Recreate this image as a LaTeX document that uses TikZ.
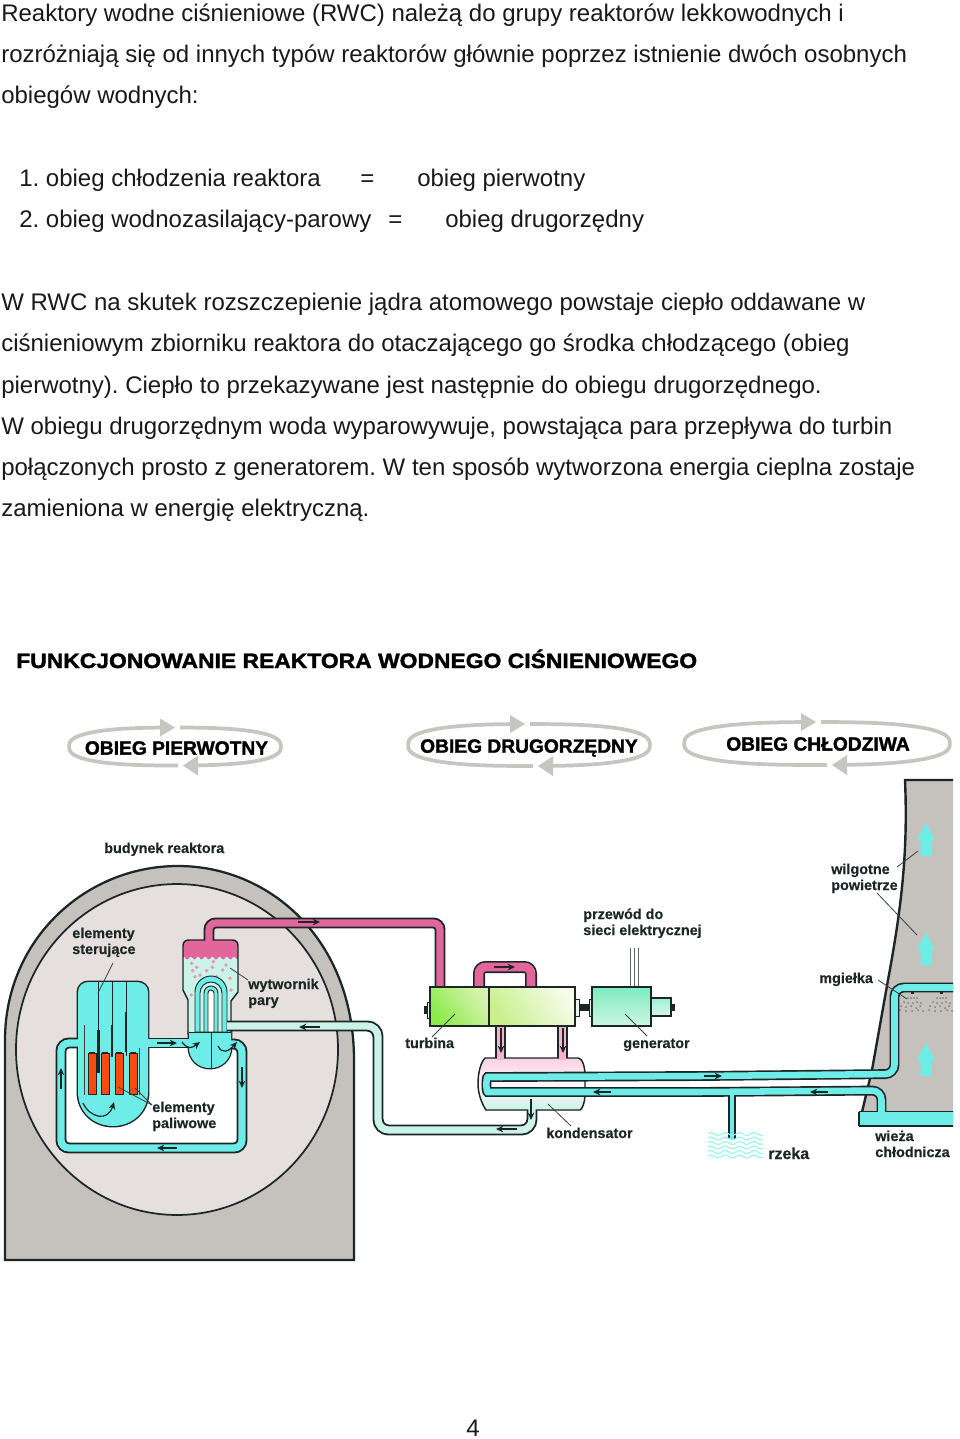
\documentclass[tikz,border=0pt]{standalone}
\usepackage{fontspec}
\usetikzlibrary{arrows.meta}
\setmainfont{Liberation Sans}
\newfontface\heavyfont{Liberation Sans Bold}[FakeBold=1.8,FakeStretch=1.1]
\newfontface\ovalfont{Liberation Sans Bold}[FakeBold=1.6]
\newfontface\labfont{Liberation Sans Bold}[FakeBold=0.35]
\definecolor{teal1}{HTML}{6EEDE8}
\definecolor{teal2}{HTML}{CBF3E8}
\definecolor{pink1}{HTML}{E2659B}
\definecolor{pink2}{HTML}{F3B3CC}
\definecolor{bgray}{HTML}{C5C2BE}
\definecolor{cgray}{HTML}{E5E0DD}
\definecolor{ovalc}{HTML}{C6C6C0}
\definecolor{ink}{HTML}{1C2626}
\definecolor{leadc}{HTML}{3A3F3F}
\definecolor{fuel}{HTML}{FA4A12}
\tikzset{
 bodytext/.style={anchor=base west,inner sep=0pt,font=\frenchspacing\fontsize{18}{20}\selectfont,text=black!90},
 lab/.style={anchor=base west,inner sep=0pt,font=\labfont\fontsize{10.8}{12}\selectfont,text=ink},
 ovaltext/.style={anchor=center,inner sep=0pt,font=\ovalfont\fontsize{14.4}{15}\selectfont,text=black},
 pipeO/.style={draw=ink,line width=8.2pt,rounded corners=6pt},
 pipeI/.style={line width=5.4pt,rounded corners=6pt},
 thinO/.style={draw=ink,line width=5.4pt},
 thinI/.style={line width=3.2pt},
 leader/.style={draw=leadc,line width=0.6pt},
 flow/.style={draw=ink,line width=0.9pt,-{Stealth[length=5.5pt,width=5pt]}},
 outline/.style={draw=ink,line width=1.1pt},
 ovalline/.style={draw=ovalc,line width=2.8pt},
 fuelrod/.style={fill=fuel,draw=ink,line width=0.6pt},
}
\newcommand{\ovalb}[6]{%
 \pgfmathsetmacro{\aR}{acos((#5+5-#1)/#3)}%
 \pgfmathsetmacro{\aB}{acos((#6+12-#1)/#3)}%
 \pgfmathsetmacro{\aC}{acos((#6-5-#1)/#3)}%
 \pgfmathsetmacro{\aL}{360-acos((#5-12-#1)/#3)}%
 \draw[ovalline] plot[smooth,samples=60,domain=-\aR:\aB] ({#1+#3*cos(\x)/((abs(cos(\x))+0.001)^2.6+(abs(sin(\x))+0.001)^2.6)^(0.3846)},{#2+#4*sin(\x)/((abs(cos(\x))+0.001)^2.6+(abs(sin(\x))+0.001)^2.6)^(0.3846)});
 \draw[ovalline] plot[smooth,samples=60,domain=\aC:\aL] ({#1+#3*cos(\x)/((abs(cos(\x))+0.001)^2.6+(abs(sin(\x))+0.001)^2.6)^(0.3846)},{#2+#4*sin(\x)/((abs(cos(\x))+0.001)^2.6+(abs(sin(\x))+0.001)^2.6)^(0.3846)});
 \fill[ovalc] (#5,#2-#4) -- (#5-15,#2-#4-9) -- (#5-15,#2-#4+9) -- cycle;
 \fill[ovalc] (#6,#2+#4) -- (#6+15,#2+#4-10) -- (#6+15,#2+#4+10) -- cycle;
}
\newcommand{\upa}[3]{\fill[teal1] (#1,#2) -- (#1+9,#2+17) -- (#1+5.5,#2+17) -- (#1+5.5,#3) -- (#1-5.5,#3) -- (#1-5.5,#2+17) -- (#1-9,#2+17) -- cycle;}
\newcommand{\arch}[4]{%
 \pgfmathsetmacro{\hh}{(#2-#1)/2}\pgfmathsetmacro{\mm}{(#1+#2)/2}%
 \filldraw[outline,line width=0.7pt,fill=#4] (#1,1032) -- (#1,#3+\hh) .. controls (#1,#3+0.45*\hh) and (\mm-0.55*\hh,#3) .. (\mm,#3) .. controls (\mm+0.55*\hh,#3) and (#2,#3+0.45*\hh) .. (#2,#3+\hh) -- (#2,1032) -- cycle;
}
\begin{document}
\begin{tikzpicture}[x=0.75pt,y=-0.75pt]
\useasboundingbox (0,0) rectangle (960,1439);
\fill[white] (0,0) rectangle (960,1439);
% --- text
\node[bodytext] (t1) at (1,21) {Reaktory wodne ciśnieniowe (RWC) należą do grupy reaktorów lekkowodnych i};
\node[bodytext] (t2) at (1,62) {rozróżniają się od innych typów reaktorów głównie poprzez istnienie dwóch osobnych};
\node[bodytext] (t3) at (1,103) {obiegów wodnych:};
\node[bodytext] (t4) at (19,186) {1. obieg chłodzenia reaktora};
\node[bodytext] (t4a) at (360,186) {=};
\node[bodytext] (t4b) at (417,186) {obieg pierwotny};
\node[bodytext] (t5) at (19,227) {2. obieg wodnozasilający-parowy};
\node[bodytext] (t5a) at (388,227) {=};
\node[bodytext] (t5b) at (445,227) {obieg drugorzędny};
\node[bodytext] (t6) at (1,310) {W RWC na skutek rozszczepienie jądra atomowego powstaje ciepło oddawane w};
\node[bodytext] (t7) at (1,351) {ciśnieniowym zbiorniku reaktora do otaczającego go środka chłodzącego (obieg};
\node[bodytext] (t8) at (1,393) {pierwotny). Ciepło to przekazywane jest następnie do obiegu drugorzędnego.};
\node[bodytext] (t9) at (1,434) {W obiegu drugorzędnym woda wyparowywuje, powstająca para przepływa do turbin};
\node[bodytext] (t10) at (1,475) {połączonych prosto z generatorem. W ten sposób wytworzona energia cieplna zostaje};
\node[bodytext] (t11) at (1,516) {zamieniona w energię elektryczną.};
\node[anchor=base west,inner sep=0pt,font=\heavyfont\fontsize{15.6}{18}\selectfont] (head) at (16,668) {FUNKCJONOWANIE REAKTORA WODNEGO CIŚNIENIOWEGO};
\node[bodytext] (pg) at (466,1436.5) {4};
% --- ovals
\ovalb{175}{746.5}{106}{19}{175}{183}
\ovalb{529}{745}{121}{21}{525}{538}
\ovalb{817}{743.5}{133}{21.5}{816}{832}
\node[ovaltext] (o1) at (176.5,748) {OBIEG PIERWOTNY};
\node[ovaltext] (o2) at (529,748) {OBIEG DRUGORZĘDNY};
\node[ovaltext] (o3) at (818,744) {OBIEG CHŁODZIWA};
% --- building
\filldraw[fill=bgray,draw=ink,line width=1.7pt] (5,1260) -- (5,1040) .. controls (5,940) and (85,866) .. (178,866) .. controls (270,866) and (354,940) .. (354,1060) -- (354,1260) -- cycle;
\filldraw[fill=cgray,draw=ink,line width=1.3pt] (177,1049.5) ellipse [x radius=120.75pt,y radius=124.1pt];
% --- primary circuit
\fill[white] (61,1043) rectangle (241,1148);
\def\vesselpath{(78,992) .. controls (78,986) and (83,982) .. (88,982) -- (137,982) .. controls (143,982) and (148,986) .. (148,992) -- (148,1092) .. controls (148,1112) and (132,1126) .. (113,1126) .. controls (94,1126) and (78,1112) .. (78,1092) -- cycle}
\def\bowlpath{(189,1032) -- (189,1047) .. controls (189,1060) and (199,1068) .. (210,1068) .. controls (221,1068) and (231,1060) .. (231,1047) -- (231,1032) -- cycle}
\draw[draw=ink,line width=2.2pt] \vesselpath;
\draw[draw=ink,line width=2.2pt] \bowlpath;
\draw[pipeO] (85,1043) -- (61,1043) -- (61,1148) -- (242,1148) -- (242,1044) -- (222,1044);
\draw[pipeO,rounded corners=0pt] (140,1043) -- (198,1043);
\fill[teal1] \vesselpath;
\fill[teal1] \bowlpath;
\draw[pipeI,teal1] (85,1043) -- (61,1043) -- (61,1148) -- (242,1148) -- (242,1044) -- (222,1044);
\draw[pipeI,teal1,rounded corners=0pt] (140,1043) -- (198,1043);
\draw[leader,line width=0.5pt] (84,1025) -- (84,1095);
\draw[leader,line width=0.5pt] (139,1048) -- (139,1095);
% control rods and fuel
\draw[draw=ink,line width=0.7pt] (98,982) -- (98,1040);
\draw[draw=ink,line width=0.7pt] (112,982) -- (112,1030);
\draw[draw=ink,line width=0.7pt] (126,982) -- (126,1056);
\foreach \fx in {88,101,115,129}{
 \filldraw[fuelrod] (\fx,1053) rectangle (\fx+8,1094);
 \fill[ink] (\fx+1,1052) rectangle (\fx+7,1054);
}
\draw[draw=ink,line width=2.2pt] (98.5,1030) -- (98.5,1073);
\draw[draw=ink,line width=2.2pt] (112,1025) -- (112,1057);
\draw[draw=ink,line width=2.2pt] (126,1012) -- (126,1052);
% --- steam generator
\def\sgpath{(188,1034) -- (188,1000) -- (183,990) -- (183,946) .. controls (183,942) and (185,940) .. (189,940) -- (232,940) .. controls (236,940) and (238,942) .. (238,946) -- (238,992) -- (231,1001) -- (231,1034) -- cycle}
\draw[pipeO,rounded corners=5pt] (209,945) -- (209,923) -- (440,923) -- (440,990);
\fill[teal2] \sgpath;
\begin{scope}
\clip \sgpath;
\fill[pink1] (183,936) -- (238,936) -- plot[smooth,samples=45,domain=238:183] ({\x},{958+1.4*cos(\x*50)}) -- cycle;
\foreach \bx/\by in {575/400,590/412,637/412,678/405,668/420,578/422,620/422,600/436,585/440,640/395,650/440,690/445,693/480,574/495}{
 \fill[pink1!70!white] ({\bx/3},{830+\by/3}) circle (1.4pt);
}
\end{scope}
\draw[outline] \sgpath;
\draw[pipeI,pink1,rounded corners=5pt] (209,945) -- (209,923) -- (440,923) -- (440,990);
\fill[teal1] \bowlpath;
\arch{195}{227}{976}{teal1}
\arch{200}{222}{982}{teal2}
\arch{204}{218}{986}{teal1}
\arch{208}{214}{990}{white}
\draw[outline,line width=0.7pt] (211,1032) -- (211,1068);
\draw[outline,line width=0.7pt] (189,1032) -- (231,1032);
% --- secondary circuit
\draw[pipeO,rounded corners=8pt] (227,1026) -- (378,1026) -- (378,1130) -- (532,1130) -- (532,1108);
\draw[pipeO,line width=9pt,rounded corners=5pt] (479,990) -- (479,967) -- (531,967) -- (531,990);
\draw[pipeI,line width=6.6pt,pink1,rounded corners=5pt] (479,990) -- (479,967) -- (531,967) -- (531,990);
\draw[pipeO,rounded corners=0pt] (500.5,1024) -- (500.5,1062);
\draw[pipeO,rounded corners=0pt] (562.5,1024) -- (562.5,1062);
\filldraw[outline,top color=pink2!60!white,bottom color=teal2,middle color=pink2!10!white] (485,1058) -- (578,1058) .. controls (582,1058) and (585,1066) .. (585,1075) -- (585,1095) .. controls (585,1102) and (582,1110) .. (580,1110) -- (486,1110) .. controls (482,1104) and (478,1094) .. (478,1084) .. controls (478,1072) and (481,1062) .. (485,1058) -- cycle;
\draw[pipeI,pink2,rounded corners=0pt] (500.5,1024) -- (500.5,1060);
\draw[pipeI,pink2,rounded corners=0pt] (562.5,1024) -- (562.5,1060);
\draw[pipeI,teal2,rounded corners=8pt] (227,1026) -- (378,1026) -- (378,1130) -- (532,1130) -- (532,1109);
% --- turbine and generator
\fill[ink] (424,1006) rectangle (428,1014);
\filldraw[draw=ink,line width=0.6pt,fill=teal2!60!white] (427,1002) rectangle (431,1018);
\fill[ink] (578,1004) rectangle (592,1011);
\filldraw[draw=ink,line width=0.6pt,fill=teal2!60!white] (575,999) rectangle (579,1016);
\filldraw[draw=ink,line width=0.6pt,fill=teal2!60!white] (589,999) rectangle (592,1016);
\fill[ink] (671,1004) rectangle (675,1011);
\draw[draw=ink!70,line width=0.6pt] (630,948) -- (630,987) (634,948) -- (634,987) (638,948) -- (638,987);
\definecolor{tgA}{HTML}{8CEB4A}\definecolor{tgB}{HTML}{D8F2B0}\definecolor{tgC}{HTML}{C8F08C}\definecolor{tgD}{HTML}{F6FBEA}
\definecolor{geA}{HTML}{7DECC0}\definecolor{geB}{HTML}{CDF6E4}\definecolor{exA}{HTML}{9FF0D5}\definecolor{exB}{HTML}{D5F7EA}
\path[shading=axis,left color=tgA,right color=tgB,shading angle=125] (430,987) rectangle (489,1026);
\path[shading=axis,left color=tgC,right color=tgD,shading angle=125] (489,987) rectangle (575,1026);
\draw[outline,line width=0.8pt] (430,987) rectangle (575,1026);
\draw[outline,line width=0.8pt] (489,987) -- (489,1026);
\path[shading=axis,top color=geA,bottom color=geB] (592,987) rectangle (651,1026);
\draw[outline,line width=0.8pt] (592,987) rectangle (651,1026);
\path[shading=axis,top color=exA,bottom color=exB] (651,998) rectangle (671,1016);
\draw[outline,line width=0.8pt] (651,998) rectangle (671,1016);
% --- cooling tower
\begin{scope}
\clip (0,0) rectangle (953,1439);
\filldraw[fill=bgray,draw=none] (905,780) -- (960,780) -- (960,1120) -- (860,1120) -- (872,1070) -- (888,980) .. controls (902,905) and (908,850) .. (905,780) -- cycle;
\draw[draw=ink,line width=1.8pt] (960,780) -- (905,780) .. controls (908,850) and (902,905) .. (888,980) -- (872,1070) -- (862,1112);
\upa{926}{823}{856}
\upa{926}{933}{965}
\upa{926}{1043}{1076}
\foreach \nx in {912,941}{
 \fill[ink] (\nx-1.5,991) rectangle (\nx+1.5,994);
 \foreach \dx/\dy in {-4/998,-1/998,2/998,5/998,-8/1002,-4/1003,1/1003,5/1002,9/1003,-11/1006,-6/1007,-1/1006,4/1008,8/1006,-12/1010,-6/1011,0/1011,6/1010,11/1011}{
  \fill[ink] (\nx+\dx,\dy) circle (0.55pt);
 }
}
\def\loopA{(980,987.5) -- (894.5,987.5) -- (894.5,1074) -- (700,1076) -- (497,1077) .. controls (486,1077) and (486,1092) .. (497,1092) -- (700,1092) -- (881.5,1090.5) -- (881.5,1114)}
\draw[pipeO,line width=7.4pt,rounded corners=7pt] \loopA;
\draw[thinO] (732,1092) -- (732,1139);
\fill[teal1] (859,1111.5) rectangle (970,1126);
\draw[outline] (859,1111.5) -- (970,1111.5) (859,1126) -- (970,1126) (859,1111.5) -- (859,1126);
\draw[pipeI,line width=4.9pt,teal1,rounded corners=7pt] \loopA;
\draw[thinI,teal1] (732,1092) -- (732,1139);
\end{scope}
% river
\foreach \wy in {1134,1138.5,1143,1147.5,1152,1156.5}{
 \draw[teal1!65!white,line width=0.9pt] plot[smooth,samples=40,domain=8:63] ({700+\x},{\wy+1.4*sin(\x*25)});
}
% --- flow arrows
\draw[flow] (157,1043) -- (177,1043);
\draw[flow] (182,1042) .. controls (188,1050) and (192,1048) .. (200,1042);
\draw[flow] (218,1046) .. controls (222,1054) and (228,1052) .. (237,1042);
\draw[flow] (242,1067) -- (242,1088);
\draw[flow] (61,1089) -- (61,1068);
\draw[flow] (177,1148) -- (157,1148);
\draw[flow] (83,1103) .. controls (90,1118) and (108,1122) .. (114,1102);
\draw[flow] (298,922) -- (320,922);
\draw[flow] (320,1027) -- (299,1027);
\draw[flow] (494,967) -- (515,967);
\draw[flow] (501,1028) -- (501,1053);
\draw[flow] (563,1028) -- (563,1053);
\draw[flow] (531,1099) -- (531,1120);
\draw[flow] (517,1129) -- (496,1129);
\draw[flow] (704,1076) -- (722,1076);
\draw[flow] (611,1092) -- (593,1092);
\draw[flow] (828,1092) -- (810,1092);
% --- leaders
\draw[leader] (113,963) -- (98,993);
\draw[leader] (248,980) -- (230,968);
\draw[leader] (152,1105) -- (135,1088);
\draw[leader] (152,1105) -- (118,1087);
\draw[leader] (432,1037) -- (455,1014);
\draw[leader] (647,1036) -- (625,1014);
\draw[leader] (571,1126) -- (548,1104);
\draw[leader] (897,867) -- (918,851);
\draw[leader] (877,893) -- (917,935);
\draw[leader] (878,980) -- (907,999);
% --- labels
\node[lab] (l1) at (104,853) {budynek reaktora};
\node[lab] (l2) at (72,938) {elementy};
\node[lab] (l3) at (72,954) {sterujące};
\node[lab] (l4) at (248,989) {wytwornik};
\node[lab] (l5) at (248,1005) {pary};
\node[lab] (l6) at (152,1112) {elementy};
\node[lab] (l7) at (152,1128) {paliwowe};
\node[lab] (l8) at (405,1048) {turbina};
\node[lab] (l9) at (623,1048) {generator};
\node[lab] (l10) at (583,919) {przewód do};
\node[lab] (l11) at (583,935) {sieci elektrycznej};
\node[lab] (l12) at (546,1138) {kondensator};
\node[lab,font=\labfont\fontsize{12}{13}\selectfont] (l13) at (768,1159) {rzeka};
\node[lab] (l14) at (875,1141) {wieża};
\node[lab] (l15) at (875,1157) {chłodnicza};
\node[lab] (l16) at (831,874) {wilgotne};
\node[lab] (l17) at (831,890) {powietrze};
\node[lab] (l18) at (819,983) {mgiełka};
\end{tikzpicture}
\end{document}
